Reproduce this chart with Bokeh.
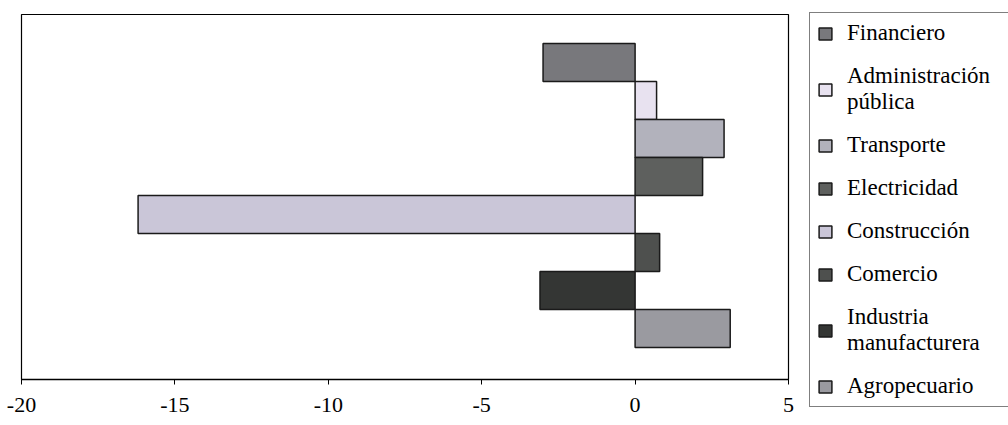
from bokeh.plotting import figure
from bokeh.models import Legend, LegendItem, ColumnDataSource, FixedTicker, Range1d
from bokeh.embed import file_html
from bokeh.resources import INLINE

sectors = ["Financiero", "Administración\npública", "Transporte", "Electricidad",
           "Construcción", "Comercio", "Industria\nmanufacturera", "Agropecuario"]
values = [-3.0, 0.7, 2.9, 2.2, -16.2, 0.8, -3.1, 3.1]
colors = ["#78787c", "#e8e2f0", "#b2b2bc", "#5e605e", "#cac6d8", "#4e504e", "#343634", "#9a9aa0"]
x_ticks = [-20, -15, -10, -5, 0, 5]
x_tick_labels = ["-20", "-15", "-10", "-5", "0", "5"]

n = len(sectors)
ypos = [n - 1 - i for i in range(n)]

FONT = "Liberation Serif"

p = figure(frame_width=767, frame_height=365, output_backend="svg", toolbar_location=None,
           x_range=Range1d(-20, 5), y_range=Range1d(-1.34, 8.26),
           min_border_left=21, min_border_top=14, min_border_bottom=46, min_border_right=0)
p.xgrid.visible = False
p.ygrid.visible = False
p.yaxis.visible = False
p.outline_line_color = "black"
p.outline_line_width = 1.2
p.background_fill_color = "white"
p.border_fill_color = "white"

p.xaxis.ticker = FixedTicker(ticks=x_ticks)
p.xaxis.major_label_overrides = {t: s for t, s in zip(x_ticks, x_tick_labels)}
p.xaxis.minor_tick_line_color = None
p.xaxis.major_tick_in = 0
p.xaxis.major_tick_out = 5
p.xaxis.axis_line_width = 1.3
p.xaxis.major_label_text_font = FONT
p.xaxis.major_label_text_font_size = "22px"
p.xaxis.major_label_text_color = "black"
p.xaxis.major_label_standoff = 13

items = []
for i, (s, v, c, y) in enumerate(zip(sectors, values, colors, ypos)):
    src = ColumnDataSource(dict(y=[y], left=[min(0, v)], right=[max(0, v)]))
    r = p.hbar(y="y", left="left", right="right", height=1.0, source=src,
               fill_color=c, line_color="#1a1a1a", line_width=1.5)
    items.append(LegendItem(label=s, renderers=[r]))

legend = Legend(items=items, location=(21, -28))
legend.label_text_font = FONT
legend.label_text_font_size = "23px"
legend.label_text_color = "black"
legend.glyph_width = 16
legend.glyph_height = 15
legend.label_standoff = 14
legend.label_width = 172
legend.spacing = 17
legend.padding = 7
legend.margin = 0
legend.border_line_color = "black"
legend.border_line_width = 1.2
legend.background_fill_alpha = 1
p.add_layout(legend, "right")
p.min_border_right = 220

open("out.html", "w").write(file_html(p, INLINE))
